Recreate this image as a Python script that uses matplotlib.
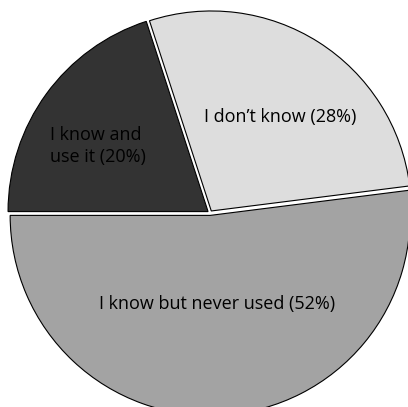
import matplotlib.pyplot as plt

# survey answers
labels = ["I know and\nuse it (20%)", "I don\u2019t know (28%)", "I know but never used (52%)"]
shares = [20, 28, 52]
colors = ["#333333", "#dddddd", "#a3a3a3"]

fig = plt.figure(figsize=(4.08, 4.07), dpi=100)
ax = fig.add_axes([0, 0, 1, 1])

wedges, _ = ax.pie(shares, colors=colors, startangle=180, counterclock=False,
                   radius=1.0, explode=[0.012, 0.012, 0.012],
                   wedgeprops=dict(edgecolor="black", linewidth=0.8))

# label positions inside each slice
pos = [(-0.56, 0.335), (0.35, 0.48), (0.035, -0.455)]
for lab, (x, y) in zip(labels, pos):
    ax.text(x, y, lab, ha="center", va="center", multialignment="left",
            fontsize=13, family=["Open Sans", "DejaVu Sans"], color="black",
            linespacing=1.3)

ax.set_xlim(-1.05, 0.99)
ax.set_ylim(-0.97, 1.065)
ax.set_aspect("auto")
ax.axis("off")

fig.savefig("out.png", dpi=100)
